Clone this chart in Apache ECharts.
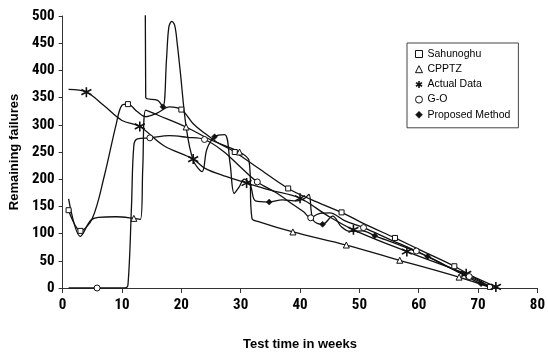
<!DOCTYPE html>
<html>
<head>
<meta charset="utf-8">
<script src="https://cdn.jsdelivr.net/npm/echarts@6/dist/echarts.min.js"></script>
<style>
html,body{margin:0;padding:0;background:#fff;}
#chart{width:548px;height:356px;}
</style>
</head>
<body>
<div id="chart"></div>
<script>
// ---- data (weeks, remaining failures, 1 = point drawn with a marker) ----
const seriesNames = ['Sahunoghu', 'CPPTZ', 'Actual Data', 'G-O', 'Proposed Method'];

const sahunoghuWeeks  = [1, 3, 5, 7, 9, 10, 11, 12.5, 14, 16, 18, 20, 22, 24, 26, 29, 33, 38, 42, 47, 51, 56, 61, 66, 72];
const sahunoghuValues = [143, 105, 128, 205, 300, 336, 338, 325, 315, 322, 333, 328, 302, 284, 268, 250, 220, 183, 162, 139, 117, 92, 66, 40, 2];
const sahunoghuMarked = [1, 1, 0, 0, 0, 0, 1, 0, 0, 0, 0, 1, 0, 0, 0, 1, 0, 1, 0, 1, 0, 1, 0, 1, 1];

const cpptzWeeks  = [1, 3, 4.7, 6, 9, 12, 13.1, 13.5, 14, 16, 20.8, 25, 29.8, 31.4, 31.9, 33, 38.8, 47.8, 56.8, 66.8, 72];
const cpptzValues = [164, 95, 124, 130, 131, 128, 126, 220, 327, 318, 296, 272, 250, 234, 128, 122, 103, 79, 51, 20, 1];
const cpptzMarked = [0, 0, 0, 0, 0, 1, 0, 0, 0, 0, 1, 0, 1, 0, 0, 0, 1, 1, 1, 1, 0];

const actualWeeks  = [1, 4, 7, 10, 13, 17, 22, 24, 27.5, 31, 35, 40, 44.5, 49, 58, 68, 73];
const actualValues = [365, 360, 335, 308, 297, 262, 237, 220, 205, 193, 180, 165, 134, 107, 67, 26, 2];
const actualMarked = [0, 1, 0, 0, 1, 0, 1, 0, 0, 1, 0, 1, 0, 1, 1, 1, 1];

const goWeeks  = [1, 5.8, 10.5, 11, 11.6, 12, 12.6, 14.7, 18, 21, 23.9, 27, 30, 32.8, 36, 39, 40.6, 41.8, 43, 45, 47.5, 50.7, 55, 59.6, 64, 68.5, 72.5];
const goValues = [0, 0, 0, 5, 150, 262, 274, 276, 280, 277, 273, 252, 222, 195, 175, 152, 140, 129, 136, 138, 124, 111, 90, 68, 44, 21, 0];
const goMarked = [0, 1, 0, 0, 0, 0, 0, 1, 0, 0, 1, 0, 0, 1, 0, 0, 0, 1, 0, 0, 0, 1, 0, 1, 0, 1, 0];

const proposedWeeks  = [13.85, 14, 16, 16.9, 17.5, 17.9, 18.4, 18.9, 19.3, 19.8, 20.8, 22, 23.5, 24.3, 25.6, 27.3, 28.2, 28.9, 29.7, 30.6, 31.6, 32.5, 34.8, 37, 39.5, 40.8, 41.5, 42.2, 43.8, 45.5, 47, 48.5, 50.5, 52.6, 57, 61.5, 66, 70.5, 72.5];
const proposedValues = [900, 350, 345, 333, 420, 480, 490, 482, 450, 400, 297, 235, 214, 255, 278, 282, 230, 174, 185, 200, 190, 160, 158, 162, 160, 165, 172, 125, 117, 132, 112, 104, 105, 96, 78, 58, 33, 8, 1];
const proposedMarked = [0, 0, 0, 1, 0, 0, 0, 0, 0, 0, 0, 0, 0, 0, 1, 0, 0, 0, 0, 0, 0, 0, 1, 0, 0, 0, 0, 0, 1, 0, 0, 0, 0, 1, 0, 1, 0, 1, 0];

const xTicks = {min: 0, max: 80, interval: 10};
const yTicks = {min: 0, max: 500, interval: 50};

// ---- chart ----
function build(weeks, values, marked) {
  return weeks.map((w, i) => marked[i] ? [w, values[i]] : {value: [w, values[i]], symbol: 'none'});
}
const asterisk = 'path://M5,0L5,10M0.6,2.4L9.4,7.6M9.4,2.4L0.6,7.6';
const INK = '#111';
const FONT = 'Liberation Sans';
const NARROW = '"Roboto Condensed", "Liberation Sans"';

const styles = {
  'Sahunoghu': {symbol: 'rect', symbolSize: 5, itemStyle: {color: '#fff', borderColor: INK, borderWidth: 1}},
  'CPPTZ': {symbol: 'triangle', symbolSize: 6, itemStyle: {color: '#fff', borderColor: INK, borderWidth: 1}},
  'Actual Data': {symbol: asterisk, symbolSize: 10, itemStyle: {color: INK, borderColor: INK, borderWidth: 1.6}},
  'G-O': {symbol: 'circle', symbolSize: 6, itemStyle: {color: '#fff', borderColor: INK, borderWidth: 1}},
  'Proposed Method': {symbol: 'diamond', symbolSize: 6, itemStyle: {color: INK, borderColor: INK, borderWidth: 0.5}}
};
const datasets = {
  'Sahunoghu': build(sahunoghuWeeks, sahunoghuValues, sahunoghuMarked),
  'CPPTZ': build(cpptzWeeks, cpptzValues, cpptzMarked),
  'Actual Data': build(actualWeeks, actualValues, actualMarked),
  'G-O': build(goWeeks, goValues, goMarked),
  'Proposed Method': build(proposedWeeks, proposedValues, proposedMarked)
};

const chart = echarts.init(document.getElementById('chart'), null, {renderer: 'canvas'});
chart.setOption({
  animation: false,
  backgroundColor: '#fff',
  grid: {left: 62, right: 7.5, top: 16, bottom: 67},
  xAxis: {
    type: 'value', min: xTicks.min, max: xTicks.max, interval: xTicks.interval,
    name: 'Test time in weeks', nameLocation: 'middle', nameGap: 50,
    nameTextStyle: {fontFamily: FONT, fontWeight: 'bold', fontSize: 13, color: '#000'},
    axisLine: {lineStyle: {color: '#333', width: 1}},
    axisTick: {show: true, length: 5, lineStyle: {color: '#333'}},
    axisLabel: {fontFamily: NARROW, fontWeight: 'bold', fontSize: 15, color: '#000', margin: 10},
    splitLine: {show: false}
  },
  yAxis: {
    type: 'value', min: yTicks.min, max: yTicks.max, interval: yTicks.interval,
    name: 'Remaining failures', nameLocation: 'middle', nameGap: 39, nameRotate: 90,
    nameTextStyle: {fontFamily: FONT, fontWeight: 'bold', fontSize: 13, color: '#000'},
    axisLine: {show: true, lineStyle: {color: '#333', width: 1}},
    axisTick: {show: true, length: 4, lineStyle: {color: '#333'}},
    axisLabel: {fontFamily: NARROW, fontWeight: 'bold', fontSize: 15, color: '#000', margin: 8},
    splitLine: {show: false}
  },
  legend: {
    orient: 'vertical', left: 407, top: 43,
    padding: [5, 8, 7, 8],
    itemGap: 3.2, itemWidth: 7, itemHeight: 7,
    backgroundColor: '#fff', borderColor: '#444', borderWidth: 1,
    textStyle: {fontFamily: FONT, fontSize: 10.5, color: '#000', lineHeight: 12},
    data: seriesNames.map(n => ({
      name: n,
      icon: styles[n].symbol,
      itemStyle: styles[n].itemStyle
    }))
  },
  series: seriesNames.map(n => ({
    name: n, type: 'line', smooth: 0.35, clip: true,
    showSymbol: true, showAllSymbol: true,
    symbol: styles[n].symbol, symbolSize: styles[n].symbolSize,
    itemStyle: styles[n].itemStyle,
    lineStyle: {color: INK, width: 1.3},
    emphasis: {disabled: true},
    data: datasets[n]
  }))
});
</script>
</body>
</html>
